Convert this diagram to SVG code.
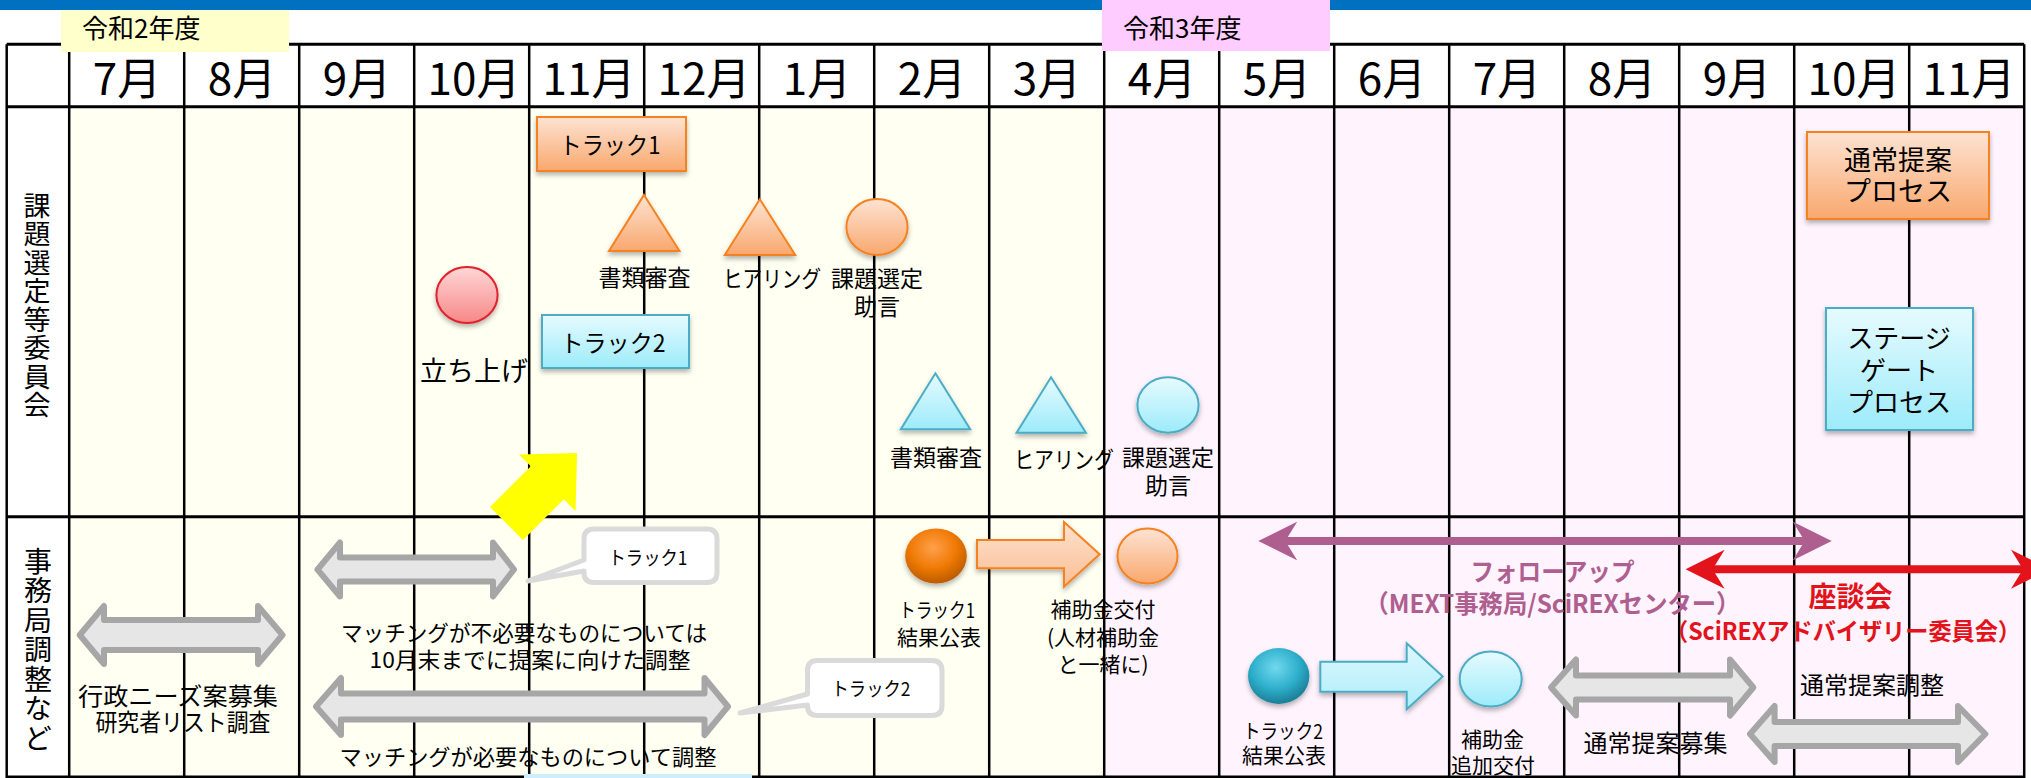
<svg xmlns="http://www.w3.org/2000/svg" width="2031" height="778" viewBox="0 0 2031 778">
<style>
text{font-family:"Noto Sans CJK JP","Noto Sans",sans-serif;fill:#000}
.mon{font-size:44px;text-anchor:middle}
.vt{writing-mode:vertical-rl;letter-spacing:1.5px}
.m{text-anchor:middle}
.f19{font-size:19px}.f20{font-size:20px}.f21{font-size:21px}.f22{font-size:22px}.f23{font-size:23px}.f24{font-size:24px}.f25{font-size:25px}.f26{font-size:26px}.f27{font-size:27px}
.vg{stroke:#000;stroke-width:2.5}
.hg{stroke:#000;stroke-width:3}
.gray{fill:#E6E6E6;stroke:#A6A6A6;stroke-width:6;stroke-linejoin:round}
.or{fill:url(#gOr);stroke:#F58220;stroke-width:2;filter:url(#sh)}
.cy{fill:url(#gCy);stroke:#4BACC6;stroke-width:2;filter:url(#sh)}
.call{fill:#fff;stroke:#DADADA;stroke-width:5;stroke-linejoin:round}
.pur{fill:#AE5F90;font-weight:700}
.red{fill:#E3131B;font-weight:700}
</style>
<defs>
<linearGradient id="gOr" x1="0" y1="0" x2="0" y2="1"><stop offset="0" stop-color="#FDE3D2"/><stop offset="1" stop-color="#F9A86E"/></linearGradient>
<linearGradient id="gCy" x1="0" y1="0" x2="0" y2="1"><stop offset="0" stop-color="#E6FBFF"/><stop offset="1" stop-color="#9DEBFA"/></linearGradient>
<linearGradient id="gRd" x1="0" y1="0" x2="0" y2="1"><stop offset="0" stop-color="#FFD6D6"/><stop offset="1" stop-color="#F78888"/></linearGradient>
<linearGradient id="gOrA" x1="0" y1="0" x2="0" y2="1"><stop offset="0" stop-color="#FDE2CE"/><stop offset="1" stop-color="#FBBE94"/></linearGradient>
<linearGradient id="gCyA" x1="0" y1="0" x2="0" y2="1"><stop offset="0" stop-color="#DDF8FE"/><stop offset="1" stop-color="#AEEDFA"/></linearGradient>
<radialGradient id="gOrD" cx="0.45" cy="0.35" r="0.68"><stop offset="0" stop-color="#FFA04A"/><stop offset="0.55" stop-color="#F07A06"/><stop offset="1" stop-color="#B55805"/></radialGradient>
<radialGradient id="gCyD" cx="0.45" cy="0.35" r="0.68"><stop offset="0" stop-color="#72D8EE"/><stop offset="0.55" stop-color="#2FB0CD"/><stop offset="1" stop-color="#187890"/></radialGradient>
<filter id="sh" x="-20%" y="-20%" width="140%" height="150%"><feDropShadow dx="0" dy="3" stdDeviation="2.5" flood-color="#000" flood-opacity="0.3"/></filter>
<marker id="mPur" viewBox="0 -20 40 40" markerWidth="40" markerHeight="40" refX="20" refY="0" orient="auto-start-reverse" markerUnits="userSpaceOnUse"><path d="M0,-19.5 L39,0 L0,19.5 L12,0 Z" fill="#AE5F90"/></marker>
<marker id="mRed" viewBox="0 -20 40 40" markerWidth="40" markerHeight="40" refX="20" refY="0" orient="auto-start-reverse" markerUnits="userSpaceOnUse"><path d="M0,-19.5 L39,0 L0,19.5 L12,0 Z" fill="#E3131B"/></marker>
</defs>

<g id="background">
<rect x="0" y="0" width="2031" height="778" fill="#fff"/>
<rect x="0" y="0" width="2031" height="10" fill="#0070C0"/>
<rect x="69.2" y="106.7" width="1035.3" height="671.3" fill="#FFFFF2"/>
<rect x="1104.5" y="106.7" width="919.7" height="671.3" fill="#FFF3FD"/>
<g id="grid">
<line class="hg" x1="6.7" y1="44.3" x2="2024.2" y2="44.3"/>
<line class="hg" x1="6.7" y1="106.7" x2="2024.2" y2="106.7"/>
<line class="hg" x1="6.7" y1="516.7" x2="2024.2" y2="516.7"/>
<line class="hg" x1="6.7" y1="777" x2="2024.2" y2="777"/>
<line class="vg" x1="6.7" y1="44.3" x2="6.7" y2="778"/>
<line class="vg" x1="69.2" y1="44.3" x2="69.2" y2="778"/>
<line class="vg" x1="184.2" y1="44.3" x2="184.2" y2="778"/>
<line class="vg" x1="299.2" y1="44.3" x2="299.2" y2="778"/>
<line class="vg" x1="414.2" y1="44.3" x2="414.2" y2="778"/>
<line class="vg" x1="529.2" y1="44.3" x2="529.2" y2="778"/>
<line class="vg" x1="644.2" y1="44.3" x2="644.2" y2="778"/>
<line class="vg" x1="759.2" y1="44.3" x2="759.2" y2="778"/>
<line class="vg" x1="874.2" y1="44.3" x2="874.2" y2="778"/>
<line class="vg" x1="989.2" y1="44.3" x2="989.2" y2="778"/>
<line class="vg" x1="1104.2" y1="44.3" x2="1104.2" y2="778"/>
<line class="vg" x1="1219.2" y1="44.3" x2="1219.2" y2="778"/>
<line class="vg" x1="1334.2" y1="44.3" x2="1334.2" y2="778"/>
<line class="vg" x1="1449.2" y1="44.3" x2="1449.2" y2="778"/>
<line class="vg" x1="1564.2" y1="44.3" x2="1564.2" y2="778"/>
<line class="vg" x1="1679.2" y1="44.3" x2="1679.2" y2="778"/>
<line class="vg" x1="1794.2" y1="44.3" x2="1794.2" y2="778"/>
<line class="vg" x1="1909.2" y1="44.3" x2="1909.2" y2="778"/>
<line class="vg" x1="2024.2" y1="44.3" x2="2024.2" y2="778"/>
</g>
</g>

<g id="header">
<g id="year2">
<rect x="61" y="10" width="228" height="42" fill="#FFFFCC"/>
<text x="82" y="38" style="font-size:26px">令和2年度</text>
</g>
<g id="year3">
<rect x="1102" y="0" width="228" height="51" fill="#FFCCFF"/>
<text x="1123" y="38" style="font-size:26px">令和3年度</text>
</g>
<g id="months">
<text class="mon" x="127" y="95">7月</text>
<text class="mon" x="242" y="95">8月</text>
<text class="mon" x="357" y="95">9月</text>
<text class="mon" x="474" y="95">10月</text>
<text class="mon" x="589" y="95">11月</text>
<text class="mon" x="704" y="95">12月</text>
<text class="mon" x="817" y="95">1月</text>
<text class="mon" x="932" y="95">2月</text>
<text class="mon" x="1047" y="95">3月</text>
<text class="mon" x="1162" y="95">4月</text>
<text class="mon" x="1277" y="95">5月</text>
<text class="mon" x="1392" y="95">6月</text>
<text class="mon" x="1507" y="95">7月</text>
<text class="mon" x="1622" y="95">8月</text>
<text class="mon" x="1737" y="95">9月</text>
<text class="mon" x="1854" y="95">10月</text>
<text class="mon" x="1969" y="95">11月</text>
</g>
<g id="row-label-1">
<text class="vt" x="37" y="192" style="font-size:27px">課題選定等委員会</text>
</g>
<g id="row-label-2">
<text class="vt" x="38" y="547" style="font-size:28px">事務局調整など</text>
</g>
</g>

<g id="connectors">
<polygon id="yellow-arrow" points="577,453 575.6,511 563.8,499.2 523,540 490,507 530.8,466.2 519,454.4" fill="#FFFF00"/>
<g id="arrow-gyosei">
<path class="gray" d="M79.7,635 L104,606 L104,620 L258,620 L258,606 L282.5,635 L258,664 L258,650 L104,650 L104,664 Z"/>
<text class="f24 m"><tspan x="178" y="705" textLength="200" lengthAdjust="spacingAndGlyphs">行政ニーズ案募集</tspan><tspan x="183" y="731" textLength="175" lengthAdjust="spacingAndGlyphs">研究者リスト調査</tspan></text>
</g>
<g id="arrow-track1">
<path class="gray" d="M317.5,569.5 L340,542.5 L340,557.5 L493,557.5 L493,542.5 L514,569.5 L493,596.5 L493,581.5 L340,581.5 L340,596.5 Z"/>
<text class="f22 m"><tspan x="524" y="641" textLength="366" lengthAdjust="spacingAndGlyphs">マッチングが不必要なものについては</tspan><tspan x="530" y="668" textLength="321" lengthAdjust="spacingAndGlyphs">10月末までに提案に向けた調整</tspan></text>
</g>
<g id="arrow-track2">
<path class="gray" d="M316,706.5 L341,678 L341,693.5 L704.5,693.5 L704.5,678 L728,706.5 L704.5,735 L704.5,719.5 L341,719.5 L341,735 Z"/>
<text class="f22 m" x="528" y="765" textLength="377" lengthAdjust="spacingAndGlyphs">マッチングが必要なものについて調整</text>
</g>
<g id="arrow-boshu">
<path class="gray" d="M1551,687.5 L1576,659.5 L1576,675.5 L1730,675.5 L1730,659.5 L1753.3,687.5 L1730,715.5 L1730,699.5 L1576,699.5 L1576,715.5 Z"/>
<text class="f24 m" x="1655.5" y="752">通常提案募集</text>
</g>
<g id="arrow-chosei">
<path class="gray" d="M1750,734 L1774.6,706 L1774.6,722 L1958,722 L1958,706 L1985.4,734 L1958,762 L1958,746 L1774.6,746 L1774.6,762 Z"/>
<text class="f24 m" x="1872" y="694">通常提案調整</text>
</g>
<path id="arrow-orange" d="M977,540 L1064,540 L1064,522 L1099.6,554.2 L1064,586.7 L1064,568.3 L977,568.3 Z" fill="url(#gOrA)" stroke="#F58220" stroke-width="2" filter="url(#sh)"/>
<path id="arrow-cyan" d="M1320.3,661.7 L1406.7,661.7 L1406.7,643.3 L1442.7,676.5 L1406.7,709.3 L1406.7,691.7 L1320.3,691.7 Z" fill="url(#gCyA)" stroke="#4BACC6" stroke-width="2" filter="url(#sh)"/>
<g id="arrow-followup">
<line x1="1277.3" y1="541" x2="1812.7" y2="541" stroke="#AE5F90" stroke-width="8" marker-start="url(#mPur)" marker-end="url(#mPur)"/>
<text class="pur m" style="font-size:25px"><tspan x="1552.5" y="581" textLength="164" lengthAdjust="spacingAndGlyphs">フォローアップ</tspan><tspan x="1552.4" y="613" textLength="376" lengthAdjust="spacingAndGlyphs">（MEXT事務局/SciREXセンター）</tspan></text>
</g>
<g id="arrow-zadankai">
<line x1="1704.6" y1="569.3" x2="2031" y2="569.3" stroke="#E3131B" stroke-width="8" marker-start="url(#mRed)" marker-end="url(#mRed)"/>
<text class="red m"><tspan x="1850.5" y="607" style="font-size:28px">座談会</tspan><tspan x="1843" y="640" style="font-size:24px" textLength="356" lengthAdjust="spacingAndGlyphs">（SciREXアドバイザリー委員会）</tspan></text>
</g>
</g>

<g id="node-track1-box">
<rect class="or" x="537" y="117" width="149" height="54"/>
<text class="f24 m" x="610" y="154" textLength="101" lengthAdjust="spacingAndGlyphs">トラック1</text>
</g>
<g id="node-track2-box">
<rect class="cy" x="542" y="315" width="147" height="53"/>
<text class="f24 m" x="613" y="352" textLength="105" lengthAdjust="spacingAndGlyphs">トラック2</text>
</g>
<g id="node-tachiage">
<ellipse cx="467" cy="295" rx="30.6" ry="28" fill="url(#gRd)" stroke="#E0202A" stroke-width="2" filter="url(#sh)"/>
<text class="f27 m" x="474" y="381">立ち上げ</text>
</g>
<g id="node-o-shorui">
<polygon class="or" points="644,195 679.5,251 609,251"/>
<text class="f23 m" x="644.5" y="286">書類審査</text>
</g>
<g id="node-o-hearing">
<polygon class="or" points="759.8,199.3 795.2,255 724.8,255"/>
<text class="f23 m" x="772" y="287" textLength="98" lengthAdjust="spacingAndGlyphs">ヒアリング</text>
</g>
<g id="node-o-josen">
<ellipse class="or" cx="877" cy="227" rx="30.6" ry="28"/>
<text class="f23 m"><tspan x="877" y="287">課題選定</tspan><tspan x="877" y="315">助言</tspan></text>
</g>
<g id="node-c-shorui">
<polygon class="cy" points="935.4,373.3 970.2,429.3 900.8,429.3"/>
<text class="f23 m" x="936" y="466">書類審査</text>
</g>
<g id="node-c-hearing">
<polygon class="cy" points="1051,377.3 1085.9,432.7 1016.6,432.7"/>
<text class="f23 m" x="1064" y="468" textLength="100" lengthAdjust="spacingAndGlyphs">ヒアリング</text>
</g>
<g id="node-c-josen">
<ellipse class="cy" cx="1168" cy="405" rx="30.6" ry="27.7"/>
<text class="f23 m"><tspan x="1168" y="466">課題選定</tspan><tspan x="1168" y="494">助言</tspan></text>
</g>
<g id="node-normal-process">
<rect class="or" x="1807" y="132" width="182" height="87"/>
<text class="f27 m"><tspan x="1898" y="170">通常提案</tspan><tspan x="1898" y="201">プロセス</tspan></text>
</g>
<g id="node-stagegate">
<rect class="cy" x="1826" y="308" width="147" height="122"/>
<text class="f26 m"><tspan x="1899" y="348">ステージ</tspan><tspan x="1899" y="380">ゲート</tspan><tspan x="1899" y="412">プロセス</tspan></text>
</g>
<g id="node-callout-track1">
<path class="call" d="M594,529 H707 Q717,529 717,539 V572.5 Q717,582.5 707,582.5 H594 Q584,582.5 584,572.5 V571 L528,581 L584,560 V539 Q584,529 594,529 Z"/>
<text class="f19 m" x="648" y="565" textLength="79" lengthAdjust="spacingAndGlyphs">トラック1</text>
</g>
<g id="node-callout-track2">
<path class="call" d="M817.5,660.5 H932 Q942,660.5 942,670.5 V705.5 Q942,715.5 932,715.5 H817.5 Q807.5,715.5 807.5,705.5 V705 L740,713 L807.5,694 V670.5 Q807.5,660.5 817.5,660.5 Z"/>
<text class="f19 m" x="871" y="696" textLength="79" lengthAdjust="spacingAndGlyphs">トラック2</text>
</g>
<g id="node-track1-result">
<ellipse cx="936" cy="556" rx="30.8" ry="27.5" fill="url(#gOrD)" filter="url(#sh)"/>
<text class="m"><tspan class="f20" x="937" y="618" textLength="76" lengthAdjust="spacingAndGlyphs">トラック1</tspan><tspan class="f21" x="939" y="645">結果公表</tspan></text>
</g>
<g id="node-grant">
<ellipse class="or" cx="1147.5" cy="556" rx="30" ry="27.5"/>
<text class="f21 m"><tspan x="1103" y="617">補助金交付</tspan><tspan x="1103" y="645">(人材補助金</tspan><tspan x="1103" y="672">と一緒に)</tspan></text>
</g>
<g id="node-track2-result">
<ellipse cx="1278.7" cy="676" rx="30.7" ry="28" fill="url(#gCyD)" filter="url(#sh)"/>
<text class="m"><tspan class="f20" x="1283" y="739" textLength="80" lengthAdjust="spacingAndGlyphs">トラック2</tspan><tspan class="f21" x="1284" y="763">結果公表</tspan></text>
</g>
<g id="node-grant-add">
<ellipse class="cy" cx="1490.7" cy="679" rx="31" ry="27.5"/>
<text class="f21 m"><tspan x="1492.5" y="747">補助金</tspan><tspan x="1493" y="773">追加交付</tspan></text>
</g>
<rect id="bottom-strip" x="524" y="774" width="228" height="6" fill="#CCEEFF"/>
</svg>
